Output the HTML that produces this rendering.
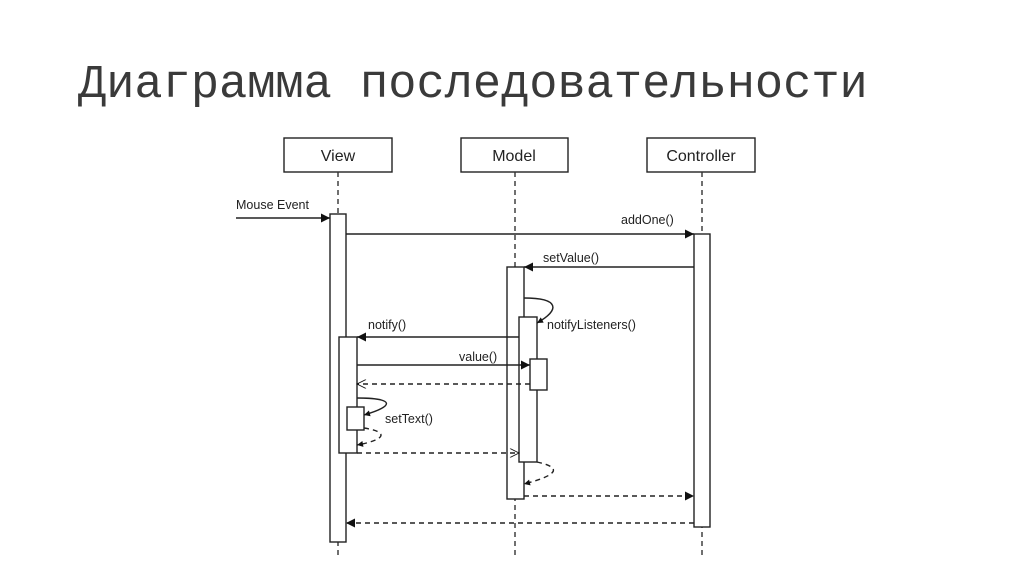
<!DOCTYPE html>
<html><head><meta charset="utf-8"><style>
html,body{margin:0;padding:0;background:#fff;width:1024px;height:574px;overflow:hidden}
svg{display:block}
</style></head><body>
<svg width="1024" height="574" viewBox="0 0 1024 574" xmlns="http://www.w3.org/2000/svg">
<defs>
<marker id="f" viewBox="0 0 10 10" refX="10" refY="5" markerWidth="11" markerHeight="9" markerUnits="userSpaceOnUse" orient="auto"><path d="M0,0L10,5L0,10z" fill="#111"/></marker>
<marker id="fs" viewBox="0 0 10 10" refX="10" refY="5" markerWidth="8" markerHeight="6" markerUnits="userSpaceOnUse" orient="auto"><path d="M0,0L10,5L0,10z" fill="#111"/></marker>
<marker id="o" viewBox="0 0 10 10" refX="10" refY="5" markerWidth="12" markerHeight="9" markerUnits="userSpaceOnUse" orient="auto"><path d="M0,0L10,5L0,10" fill="none" stroke="#111" stroke-width="1"/></marker>
</defs>
<text x="78" y="97" font-family="'Liberation Mono',monospace" font-size="47" fill="#3a3a3a">Диаграмма последовательности</text>
<g font-family="'Liberation Sans',sans-serif" fill="#222">
<g stroke="#222" stroke-width="1.4" fill="#fff">
<rect x="284" y="138" width="108" height="34"/>
<rect x="461" y="138" width="107" height="34"/>
<rect x="647" y="138" width="108" height="34"/>
</g>
<text x="338" y="161" font-size="16" text-anchor="middle">View</text>
<text x="514" y="161" font-size="16" text-anchor="middle">Model</text>
<text x="701" y="161" font-size="16" text-anchor="middle">Controller</text>
<g stroke="#333" stroke-width="1.4" stroke-dasharray="5,4">
<line x1="338" y1="172" x2="338" y2="558"/>
<line x1="515" y1="172" x2="515" y2="558"/>
<line x1="702" y1="172" x2="702" y2="558"/>
</g>
<g stroke="#222" stroke-width="1.4" fill="#fff">
<rect x="330" y="214" width="16" height="328"/>
<rect x="694" y="234" width="16" height="293"/>
<rect x="507" y="267" width="17" height="232"/>
<rect x="519" y="317" width="18" height="145"/>
<rect x="339" y="337" width="18" height="116"/>
<rect x="530" y="359" width="17" height="31"/>
<rect x="347" y="407" width="17" height="23"/>
</g>
<g stroke="#222" stroke-width="1.4" fill="none">
<line x1="236" y1="218" x2="330" y2="218" marker-end="url(#f)"/>
<line x1="346" y1="234" x2="694" y2="234" marker-end="url(#f)"/>
<line x1="694" y1="267" x2="524" y2="267" marker-end="url(#f)"/>
<path d="M524,298 C560,298 560,310 537,323" marker-end="url(#fs)"/>
<line x1="519" y1="337" x2="357" y2="337" marker-end="url(#f)"/>
<line x1="357" y1="365" x2="530" y2="365" marker-end="url(#f)"/>
<path d="M357,398 C395,398 395,406 364,415" marker-end="url(#fs)"/>
<g stroke-dasharray="5,4">
<line x1="530" y1="384" x2="357" y2="384" marker-end="url(#o)"/>
<path d="M364,428 C390,432 385,440 357,445" marker-end="url(#fs)"/>
<line x1="357" y1="453" x2="519" y2="453" marker-end="url(#o)"/>
<path d="M537,462 C565,468 555,476 524,484" marker-end="url(#fs)"/>
<line x1="524" y1="496" x2="694" y2="496" marker-end="url(#f)"/>
<line x1="694" y1="523" x2="346" y2="523" marker-end="url(#f)"/>
</g>
</g>
<text x="236" y="209" font-size="12.5">Mouse Event</text>
<text x="621" y="224" font-size="12.5">addOne()</text>
<text x="543" y="262" font-size="12.5">setValue()</text>
<text x="547" y="329" font-size="12.5">notifyListeners()</text>
<text x="368" y="329" font-size="12.5">notify()</text>
<text x="459" y="361" font-size="12.5">value()</text>
<text x="385" y="423" font-size="12.5">setText()</text>
</g>
</svg>
</body></html>
